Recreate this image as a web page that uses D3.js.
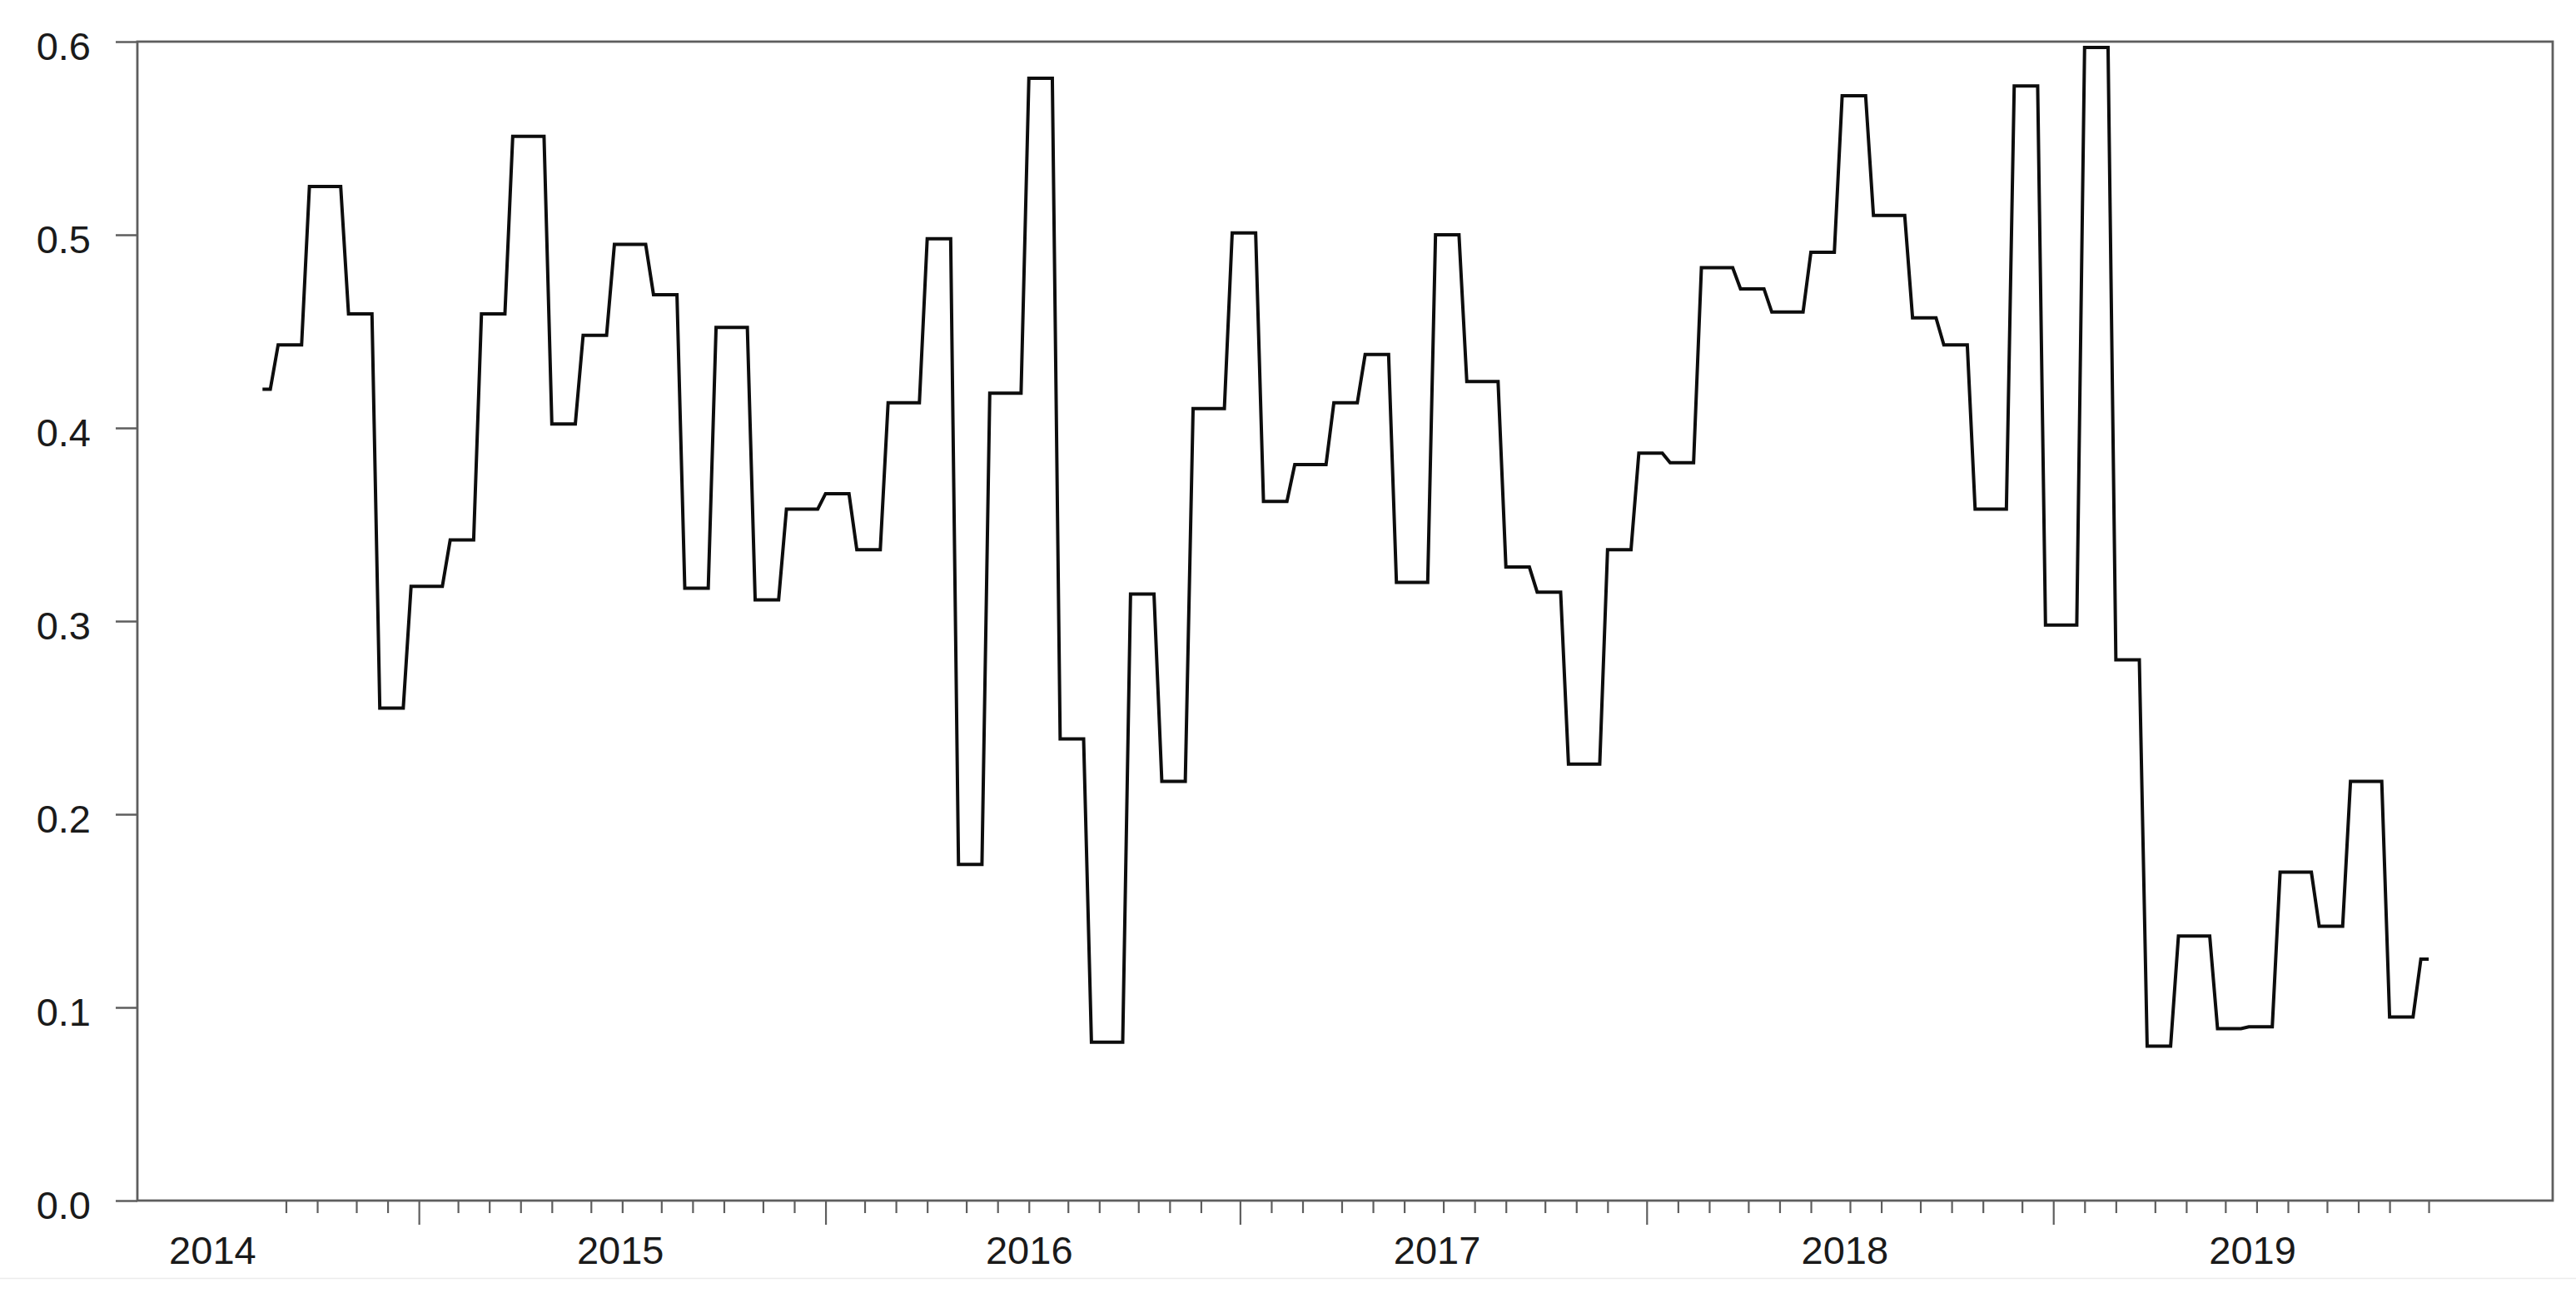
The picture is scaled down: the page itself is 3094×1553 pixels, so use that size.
<!DOCTYPE html>
<html>
<head>
<meta charset="utf-8">
<script src="https://cdn.jsdelivr.net/npm/d3@7"></script>
<style>
  html, body { margin: 0; padding: 0; background: #ffffff; }
  svg { display: block; }
  text { font-family: "Liberation Sans", Arial, Helvetica, sans-serif; fill: #1a1a1a; }
</style>
</head>
<body>
<svg id="chart" width="3094" height="1553"></svg>
<script>
// ---- data (monthly values, Aug 2014 .. Dec 2019, held for every weekly observation) ----
const firstMonth = "2014-08";
const monthlyValues = [
  0.420, 0.443, 0.525, 0.459, 0.255,                                            // 2014 Aug-Dec
  0.318, 0.342, 0.459, 0.551, 0.402, 0.448, 0.495, 0.469, 0.317, 0.452, 0.311, 0.358, // 2015
  0.366, 0.337, 0.413, 0.498, 0.174, 0.418, 0.581, 0.239, 0.082, 0.314, 0.217, 0.410, // 2016
  0.501, 0.362, 0.381, 0.413, 0.438, 0.320, 0.500, 0.424, 0.328, 0.315, 0.226, 0.337, // 2017
  0.387, 0.382, 0.483, 0.472, 0.460, 0.491, 0.572, 0.510, 0.457, 0.443, 0.358, 0.577, // 2018
  0.298, 0.597, 0.280, 0.080, 0.137, 0.089, 0.090, 0.170, 0.142, 0.217, 0.095, 0.125  // 2019
];
const firstWeek = "2014-08-15";   // weekly observations (Fridays)
const lastWeek = "2019-12-06";
const yearLabels = ["2014", "2015", "2016", "2017", "2018", "2019"];
const yTickValues = [0.0, 0.1, 0.2, 0.3, 0.4, 0.5, 0.6];
const xDomain = ["2014-04-25", "2020-03-26"];

// ---- layout ----
const plotL = 165, plotR = 3066, plotT = 50, plotB = 1442;
const parse = d3.timeParse("%Y-%m-%d");
const parseM = d3.timeParse("%Y-%m");

const svg = d3.select("#chart");
const x = d3.scaleTime().domain(xDomain.map(parse)).range([plotL, plotR]);
const y = d3.scaleLinear().domain([0, 0.6]).range([plotB, plotT]);

// weekly series: each weekly point carries the value of the month its week ends in
const m0 = parseM(firstMonth);
const weeks = d3.timeFriday.range(parse(firstWeek), d3.timeDay.offset(parse(lastWeek), 1));
const series = weeks.map(d => {
  const m = d3.timeMonth.floor(d3.timeDay.offset(d, 6));
  return { date: d, value: monthlyValues[d3.timeMonth.count(m0, m)] };
});

// faint bottom rule of the original image
svg.append("line").attr("x1", 0).attr("x2", 3094).attr("y1", 1535.5).attr("y2", 1535.5)
  .attr("stroke", "#ececec").attr("stroke-width", 1.5);

const axisColor = "#5e5e5e";

// y axis
const yAxis = d3.axisLeft(y).tickValues(yTickValues).tickFormat(d3.format(".1f"))
  .tickSize(26).tickPadding(30).tickSizeOuter(0);
const gy = svg.append("g").attr("transform", `translate(${plotL},0)`).call(yAxis);
gy.select(".domain").remove();
gy.selectAll(".tick line").attr("stroke", axisColor).attr("stroke-width", 2.5);
gy.selectAll(".tick text").attr("font-size", 47).attr("dy", "0.45em").attr("fill", "#1a1a1a");

// x ticks: first weekly observation of each month; long ticks in January
const tickMonths = d3.timeMonth.range(d3.timeMonth.offset(m0, 1), d3.timeMonth.offset(m0, monthlyValues.length));
const tickDates = tickMonths.map(m => d3.timeFriday.ceil(m));
const minorAxis = d3.axisBottom(x).tickValues(tickDates.filter(d => d.getMonth() !== 0))
  .tickSize(15).tickFormat("").tickSizeOuter(0);
const majorAxis = d3.axisBottom(x).tickValues(tickDates.filter(d => d.getMonth() === 0))
  .tickSize(29).tickFormat("").tickSizeOuter(0);
[minorAxis, majorAxis].forEach(ax => {
  const g = svg.append("g").attr("transform", `translate(0,${plotB})`).call(ax);
  g.select(".domain").remove();
  g.selectAll(".tick line").attr("stroke", axisColor).attr("stroke-width", 2.2);
});

// year labels centred in each year
const labelAxis = d3.axisBottom(x)
  .tickValues(yearLabels.map(yr => new Date(+yr, 6, 1)))
  .tickFormat(d3.timeFormat("%Y")).tickSize(0).tickPadding(43).tickSizeOuter(0);
const gl = svg.append("g").attr("transform", `translate(0,${plotB})`).call(labelAxis);
gl.select(".domain").remove();
gl.selectAll(".tick text").attr("font-size", 47).attr("fill", "#1a1a1a");

// frame
svg.append("rect").attr("x", plotL).attr("y", plotT)
  .attr("width", plotR - plotL).attr("height", plotB - plotT)
  .attr("fill", "none").attr("stroke", axisColor).attr("stroke-width", 2.8);

// series line
const line = d3.line().x(d => x(d.date)).y(d => y(d.value));
svg.append("path").datum(series)
  .attr("d", line)
  .attr("fill", "none")
  .attr("stroke", "#0d0d0d")
  .attr("stroke-width", 4)
  .attr("stroke-linejoin", "miter")
  .attr("stroke-miterlimit", 10);
</script>
</body>
</html>
